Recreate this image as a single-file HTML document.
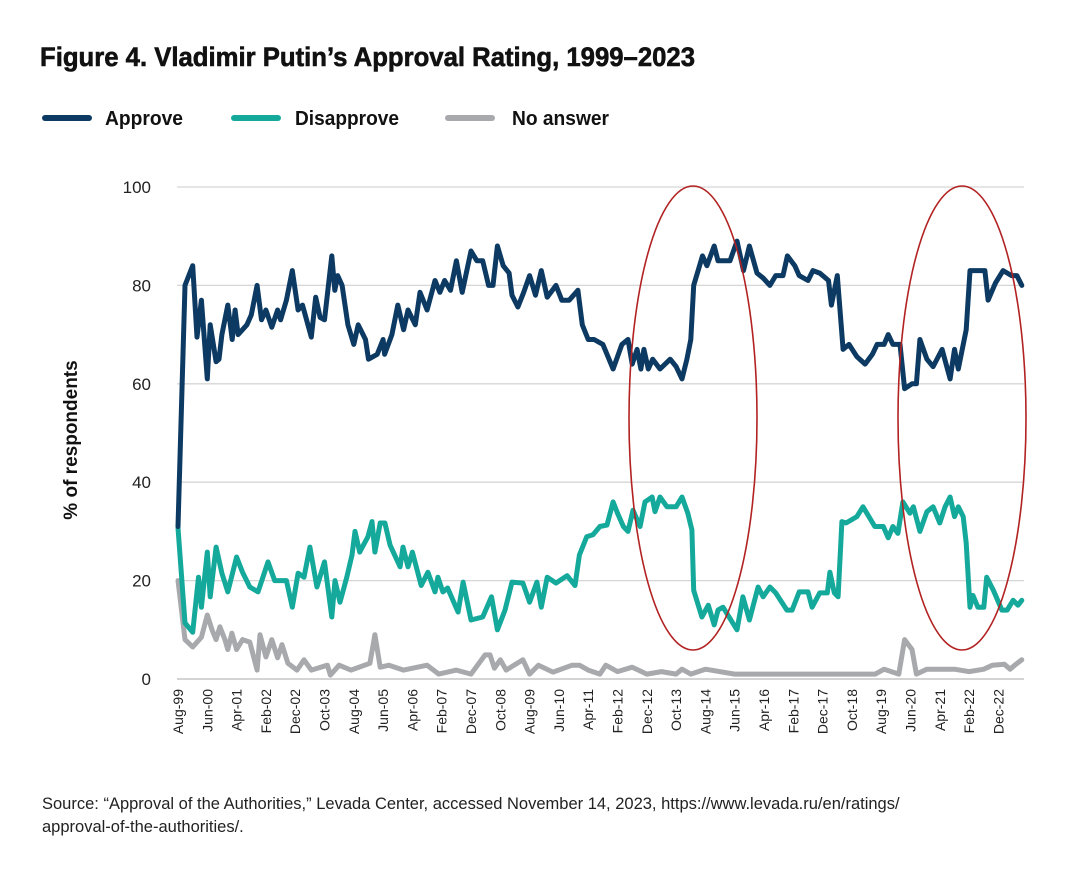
<!DOCTYPE html>
<html><head><meta charset="utf-8"><style>
html,body{margin:0;padding:0;background:#fff;}
svg{display:block;font-family:"Liberation Sans",sans-serif;}
</style></head><body>
<svg id="chart" width="1080" height="880" viewBox="0 0 1080 880" xmlns="http://www.w3.org/2000/svg">
<text x="40" y="66" font-size="27" font-weight="bold" fill="#111" textLength="655" lengthAdjust="spacingAndGlyphs" font-family="Liberation Sans Narrow, Liberation Sans, sans-serif" stroke="#111" stroke-width="0.6">Figure 4. Vladimir Putin’s Approval Rating, 1999–2023</text>
<g>
<g><line x1="45" y1="118" x2="89" y2="118" stroke="#0d3a62" stroke-width="6" stroke-linecap="round"/><text x="105" y="125" font-size="20" font-weight="bold" fill="#111" textLength="78" lengthAdjust="spacingAndGlyphs">Approve</text></g>
<g><line x1="234" y1="118" x2="278" y2="118" stroke="#14a99b" stroke-width="6" stroke-linecap="round"/><text x="295" y="125" font-size="20" font-weight="bold" fill="#111" textLength="104" lengthAdjust="spacingAndGlyphs">Disapprove</text></g>
<g><line x1="448" y1="118" x2="492" y2="118" stroke="#a7a9ac" stroke-width="6" stroke-linecap="round"/><text x="512" y="125" font-size="20" font-weight="bold" fill="#111" textLength="97" lengthAdjust="spacingAndGlyphs">No answer</text></g>
</g>
<text transform="translate(77,440) rotate(-90)" text-anchor="middle" font-size="19" font-weight="bold" fill="#111">% of respondents</text>
<g id="grid"></g><g id="yticks"></g><g id="xticks"></g><g id="series"></g>
<ellipse cx="693" cy="418" rx="64" ry="232" fill="none" stroke="#b22222" stroke-width="1.6"/>
<ellipse cx="962" cy="418" rx="64" ry="232" fill="none" stroke="#b22222" stroke-width="1.6"/>
<text x="42" y="809" font-size="16.5" fill="#222">Source: “Approval of the Authorities,” Levada Center, accessed November 14, 2023, https://www.levada.ru/en/ratings/</text>
<text x="42" y="832" font-size="16.5" fill="#222">approval-of-the-authorities/.</text>
</svg>
<script>
const yTicks=[0,20,40,60,80,100];
const xTickLabels=["Aug-99","Jun-00","Apr-01","Feb-02","Dec-02","Oct-03","Aug-04","Jun-05","Apr-06","Feb-07","Dec-07","Oct-08","Aug-09","Jun-10","Apr-11","Feb-12","Dec-12","Oct-13","Aug-14","Jun-15","Apr-16","Feb-17","Dec-17","Oct-18","Aug-19","Jun-20","Apr-21","Feb-22","Dec-22"];
const xTickMonths=[0,10,20,30,40,50,60,70,80,90,100,110,120,130,140,150,160,170,180,190,200,210,220,230,240,250,260,270,280];
const approveMonths=[0,2.4,5,6.5,8,10,11,13,14,15,17,18.5,19.5,20.5,23.5,25,27,28.5,30,32,34,35,37,39,41,42.5,45.5,47,48.5,50,52.5,53.5,54.5,56,58,60,61.5,64,65,68,70,70.5,73,75,77,78.5,81,82.6,85,87.7,89.4,91,93,95,97,100,102,104,106,107.5,109,111,113,114,116,118,120,122,124,126,129,131,133.5,136.5,138,140,142,145,148.5,151.5,153.6,155,156.7,158,159,160.5,162,164.5,168,170,172,173.7,175,176,179,180.5,183,184.3,188.4,190.8,193,195,197.6,199.7,202,204,206.5,208,210.5,212,215,216.7,219,222,223,225,227,229,231.7,234.5,237,238.6,241,242.4,244,246.4,248,250.5,252,253.2,255.6,257.7,260.8,263.5,265,266.3,269,270.3,275.4,276.5,279,281.6,284.5,286.3,288];
const approveValues=[31,80,84,69.5,77,61,72,64.5,65,70,76,69,75,70,72,74,80,73,75,71.5,75,73,77,83,75,76,69.5,77.6,73.5,73,86,79,82,80,72,68,72,69,65,66,69,66,70,76,71,75,72,78.6,75,81,78.6,81,79,85,78.6,87,85,85,80,80,88,84,82.5,78,75.6,78.6,82,78,83,77.6,80,77,77,79,72,69,69,68,63,68,69,64,67,63,67,63,65,63,65,63.5,61,65,69,80,86,84,88,85,85,89,83,88,82.5,81.5,80,82,82,86,84,82,81,83,82.5,81,76,82,67,68,65.5,64,66,68,68,70,68,68,59,60,60,69,65,63.5,67,61,67,63,71,83,83,77,80.5,83,82,82,80];
const disMonths=[0,2.4,5,7,8,10,11,13,15,17,20,22,24.5,27.3,30.7,33,37,39,41,43,45,47.4,50,52.5,53.6,55.3,57.6,59.4,60.4,62,64.8,66.2,67.2,69,70.6,72.4,75.8,76.8,78.5,80,83,85.3,87.7,88.7,90.4,92,95.6,97.3,100,104,107,109,111.6,114,117.7,120,122.5,124,126,129,132.8,135.5,137,139.5,141.6,144,146.4,148.5,150,152,153.6,155.3,157.7,159.4,161.8,162.8,164.5,166.9,170,172,174,175.4,176,178.8,181,183,184.3,186,190.8,192.8,195,198,199.7,202,204,207.8,209.6,212,215,216.4,219,221.6,222.5,224,225.3,226.6,228,231.7,233.8,237.8,240.7,242.4,244,245.7,247.4,249.8,251,253.2,255.6,257.7,260,261.8,263.5,265,266.3,268,269,270.3,271.3,273,275,276,278.3,281.2,283,285,286.7,288];
const disValues=[30.7,11.4,9.5,20.7,14.6,25.8,16.7,26.8,21.5,17.7,24.8,21.7,18.7,17.7,23.8,20,20,14.6,21.5,20.7,26.8,18.7,23.8,12.6,20,15.6,20.7,25.2,30,25.8,28.9,32,25.8,31.7,31.7,27.2,22.8,26.8,22.8,25.8,19,21.7,17.7,20.7,17.7,18.5,13.6,19.7,12,12.6,16.7,10,14,19.7,19.5,15.6,19.7,14.6,20.7,19.5,21,19,25.2,28.9,29.3,31,31.3,36,33.7,31,30,34.3,31,36,37,34,37,35,35,37,33.7,30.3,18,12.6,15,11,14,14.6,10,16.7,12,18.7,16.7,18.7,17.5,14,14,17.7,17.7,14.6,17.5,17.5,21.7,17.5,16.7,32,31.7,33,35,31,31,28.7,31,29.6,36,33.7,35,30,34,35,31.7,35,37,33,35,33,27.6,14.6,17,14.6,14.6,20.7,18,14,14,16,15,16];
const naMonths=[0,2.4,5,8,10,11.6,13,14.3,16,17,18.4,20,22,24.5,27,28,30,32,34,35.5,37.5,40.6,43,45.5,51,52,55,59,65.5,67.2,69,72,77,85,89,95,100,104.8,106.5,108,110,112,117.7,120,123,128,134.5,137,140,144,146,150,155,160,165,170,172,175,180,190,200,210,215,220,225,230,238,241,246,248,250.5,252,255.6,260,265,270,275,278,282,284,286,288];
const naValues=[20,8,6.5,8.5,13,10,8,10.6,8,6,9.3,6,8,7.5,1.8,9,4.5,8,4.3,7,3.2,1.8,3.9,1.8,2.8,0.8,2.8,1.8,3.2,9,2.4,2.8,1.8,2.8,1,1.8,1,4.9,4.9,2.2,3.9,1.8,3.9,1,2.8,1.4,2.8,2.8,1.8,1,2.8,1.5,2.4,1,1.5,1,2,1,2,1,1,1,1,1,1,1,1,2,1,8,6,1,2,2,2,1.5,2,2.8,3,2,3,3.9];

const NS="http://www.w3.org/2000/svg";
const X0=178,PXM=2.93,Y0=679,PXV=4.92;
function xScale(m){return X0+m*PXM;}
function yScale(v){return Y0-v*PXV;}
function mk(tag,attrs,parent){const e=document.createElementNS(NS,tag);for(const k in attrs)e.setAttribute(k,attrs[k]);parent.appendChild(e);return e;}
const grid=document.getElementById('grid'),yt=document.getElementById('yticks'),xt=document.getElementById('xticks'),ser=document.getElementById('series');
yTicks.forEach(v=>{
  const l=mk('line',{x1:177,x2:1024,y1:yScale(v),y2:yScale(v),stroke:v===0?'#bbb':'#d6d6d6','stroke-width':1.3},grid);
  
  
  const t=mk('text',{x:151,y:yScale(v)+6,'text-anchor':'end','font-size':17,fill:'#222'},yt);
  t.textContent=v;
  
  
});
xTickLabels.forEach((lab,i)=>{
  const x=xScale(xTickMonths[i]);
  const t=mk('text',{transform:'translate('+(x+5)+',689) rotate(-90)','text-anchor':'end','font-size':14,fill:'#222'},xt);
  t.textContent=lab;
  
  
});
function drawLine(ms,vs,color,name){
  const d=ms.map((m,i)=>(i?'L':'M')+xScale(m).toFixed(1)+','+yScale(vs[i]).toFixed(1)).join(' ');
  const p=mk('path',{d:d,fill:'none',stroke:color,'stroke-width':5,'stroke-linejoin':'round','stroke-linecap':'round'},ser);
  
  
}
drawLine(naMonths,naValues,'#a7a9ac','no-answer-line');
drawLine(disMonths,disValues,'#14a99b','disapprove-line');
drawLine(approveMonths,approveValues,'#0d3a62','approve-line');
</script>
</body></html>
